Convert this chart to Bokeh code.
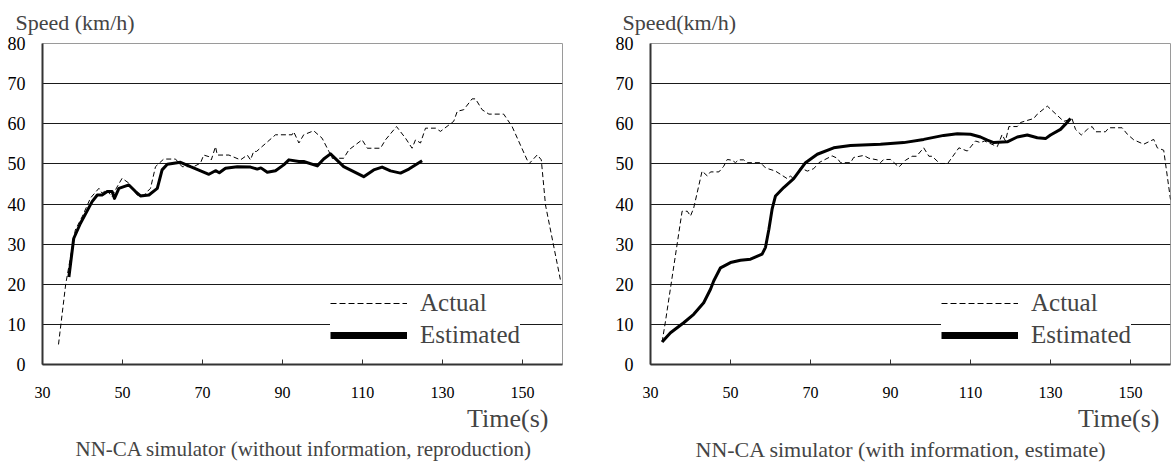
from bokeh.plotting import figure
from bokeh.models import Range1d, FixedTicker, Legend, LegendItem, Title
from bokeh.layouts import row
from bokeh.embed import file_html
from bokeh.resources import INLINE

FONT = "Liberation Serif"

# ---- data: left panel (without information, reproduction) ----
left_actual_t = [34, 35.8, 38.2, 40, 42, 44.1, 44.9, 46, 47.4, 48.5, 49.9, 51.6, 53.7, 55.3, 57, 58.25,
                 60.3, 63.25, 64.9, 67.8, 69.5, 70.3, 71.6, 72.2, 73.25, 73.7, 76.6, 79.5, 81.2, 82, 82.8,
                 83.5, 88.25, 92.4, 92.8, 94.1, 95.3, 97.8, 99.9, 101.6, 102.4, 105.3, 106.6, 108.25, 109.9,
                 111.2, 114.5, 115.75, 118.5, 120.75, 122.4, 123.25, 124.5, 125.75, 128.25, 129.5, 132.8,
                 133.7, 135.3, 137.4, 138.25, 139.9, 141.6, 145.3, 147.4, 151.6, 153.7, 154.7, 155.75, 159.5, 160]
left_actual_v = [5, 20, 33.5, 37, 41.5, 43.9, 42.7, 43.5, 41.8, 44, 46.4, 45.2, 42.2, 42.2, 43.9, 49.3,
                 51.2, 51.2, 49.3, 49.3, 50.2, 52.2, 51.8, 51, 54.3, 52.2, 52.2, 51, 52.2, 51, 53.1,
                 53.1, 57.25, 57.25, 58, 55.2, 57.25, 58.25, 56.4, 53.1, 51.4, 51.4, 53.5, 54.75, 56,
                 53.9, 53.9, 56, 59.3, 56.4, 53.9, 56, 55.2, 58.9, 58.9, 58.1, 60.6,
                 63.1, 63.5, 66.2, 66.2, 63.5, 62.4, 62.4, 59.3, 50, 52.25, 51, 39.75, 21, 21]
left_est_t = [36.6, 37.8, 39.5, 42.4, 43.7, 44.9, 46.2, 47.4, 48, 49.1, 51.6, 53.25, 54.5, 56.6, 58.7,
              59.9, 61.2, 64.5, 67, 71.6, 73.25, 74.2, 75.75, 78.7, 82, 83.7, 84.6, 86.2, 88.25, 90.3,
              91.6, 94.1, 95.3, 98.7, 100.3, 102, 105.3, 110.3, 112.8, 114.9, 117, 119.5, 121.6, 124.9]
left_est_v = [21.8, 31.4, 35.2, 40.6, 42.25, 42.25, 43.1, 43.1, 41.4, 43.9, 44.75, 43.1, 42, 42.25, 43.9,
              48.5, 49.9, 50.4, 49.3, 47.4, 48.3, 47.8, 48.9, 49.3, 49.2, 48.7, 49, 47.9, 48.3, 49.75,
              51, 50.6, 50.6, 49.5, 51.2, 52.5, 49.3, 46.8, 48.5, 49.2, 48.25, 47.7, 48.7, 50.8]

# ---- data: right panel (with information, estimate) ----
right_actual_t = [32.9, 33.75, 37.9, 39.2, 40, 40.8, 42.9, 44.2, 45, 47.1, 48.3, 49.2, 50.4, 51.25, 52,
                  53.3, 54.2, 57.5, 58.75, 61.25, 62.5, 64.2, 65, 65.8, 66.5, 67.5, 69.2, 70.8, 72.1,
                  75.4, 76.7, 77.5, 80, 80.8, 83.3, 84.6, 86.7, 87.5, 88.3, 90, 92.1, 93.75, 95.4, 96.5,
                  98.3, 99.6, 100.4, 102.3, 104.3, 107.1, 109.2, 111.25, 112.5, 113.5, 116.7, 117.9,
                  118.75, 119.6, 121.7, 122.5, 123.75, 125.8, 126.7, 129.2, 133.3, 135.4, 136.25, 137.7,
                  139.2, 140.4, 141.25, 143.75, 144.6, 147.9, 149.2, 150.8, 153.3, 155.8, 156.7, 158.3, 160]
right_actual_v = [5.6, 10.8, 38.2, 38.2, 37, 39, 48.2, 47, 48, 48, 49.4, 51.1, 50.9, 50.3, 51,
                  51, 50.3, 50.3, 49, 48.2, 47.4, 46.3, 47, 46.2, 47.5, 49, 48.2, 48.8, 50.3,
                  52, 51.4, 50.3, 50.3, 51.6, 52.1, 51.4, 51, 50.3, 51.1, 51.1, 49.2, 50.9, 51.9, 51.9,
                  54, 51.9, 51.9, 50.1, 50.1, 54, 53.2, 55.7, 55.3, 55.7, 54.3, 57.3,
                  55.7, 59.3, 59.3, 60.3, 60.7, 61.3, 62.4, 64.4, 60.6, 61.2, 58.6, 57.2,
                  58.6, 59.3, 58, 58, 59, 59, 57.4, 56, 54.9, 56.1, 54, 53.4, 41.1]
right_est_t = [32.9, 35, 38.3, 40.8, 43.3, 45, 45.8, 47.5, 50, 52.5, 55, 57.9, 58.75, 59.6, 60.4, 61.25,
               63.3, 65.8, 68.75, 71.7, 75.8, 80, 87.5, 93.3, 98.3, 103.3, 106.7, 110, 112.5, 114.2,
               115.8, 119.2, 121.7, 124.2, 126.7, 128.75, 130, 132.5, 133.75, 135]
right_est_v = [5.6, 7.9, 10.4, 12.5, 15.4, 18.75, 20.8, 24.1, 25.4, 26, 26.25, 27.5, 29.2, 33.7, 38.7, 42,
               44.1, 46.3, 50.3, 52.4, 54, 54.6, 54.9, 55.3, 56.1, 57.1, 57.5, 57.4, 56.7, 55.9,
               55.3, 55.5, 56.7, 57.2, 56.5, 56.3, 57.2, 58.6, 59.9, 61.3]

x_ticks = [30, 50, 70, 90, 110, 130, 150]
y_ticks = [0, 10, 20, 30, 40, 50, 60, 70, 80]
series_labels = ["Actual", "Estimated"]


def make_panel(width, bl, br, at, av, et, ev, ytitle, ytitle_off, time_off,
               caption, cap_off, cap_size, leg_loc):
    p = figure(width=width, height=465, x_range=Range1d(30, 160), y_range=Range1d(0, 80),
               output_backend="svg", toolbar_location=None,
               min_border_left=bl, min_border_right=br, min_border_top=43, min_border_bottom=101)
    p.extra_y_ranges = {"legend_only": Range1d(1000, 1001)}
    p.background_fill_color = "white"
    p.border_fill_color = "white"
    p.outline_line_color = "#9a9a9a"
    p.outline_line_width = 1

    p.xgrid.visible = False
    p.ygrid.ticker = FixedTicker(ticks=y_ticks[1:])
    p.ygrid.grid_line_color = "#1a1a1a"
    p.ygrid.grid_line_width = 1

    xa = p.xaxis[0]
    ya = p.yaxis[0]
    xa.ticker = FixedTicker(ticks=x_ticks)
    ya.ticker = FixedTicker(ticks=y_ticks)
    for ax in (xa, ya):
        ax.axis_line_color = "#333333"
        ax.axis_line_width = 2
        ax.major_tick_line_color = "#333333"
        ax.minor_tick_line_color = None
        ax.major_label_text_font = FONT
        ax.major_label_text_color = "black"
    xa.major_tick_in = 5
    xa.major_tick_out = 0
    xa.major_label_text_font_size = "16px"
    xa.major_label_standoff = 22
    ya.major_tick_in = 0
    ya.major_tick_out = 0
    ya.major_label_text_font_size = "18px"
    ya.major_label_standoff = 17

    p.line(at, av, line_color="black", line_width=1, line_dash="5 3")
    p.line(et, ev, line_color="black", line_width=3, line_join="round")

    # legend samples (drawn on an off-screen range so only their legend glyphs show)
    ra = p.line(at, av, line_color="black", line_width=1, line_dash="6 3", y_range_name="legend_only")
    re = p.line(et, ev, line_color="black", line_width=7, y_range_name="legend_only")
    legend = Legend(items=[LegendItem(label=series_labels[0], renderers=[ra]),
                           LegendItem(label=series_labels[1], renderers=[re])],
                    location=leg_loc, label_text_font=FONT, label_text_font_size="25px",
                    glyph_width=77, glyph_height=30, label_standoff=13, spacing=2, padding=10,
                    border_line_color=None, background_fill_color="white", background_fill_alpha=1,
                    margin=0)
    p.add_layout(legend)

    p.add_layout(Title(text=ytitle, align="left", offset=ytitle_off, text_font=FONT,
                       text_font_size="22px", text_font_style="normal", standoff=14,
                       vertical_align="top"), "above")
    p.add_layout(Title(text="Time(s)", align="right", offset=time_off, text_font=FONT,
                       text_font_size="26px", text_font_style="normal", standoff=4,
                       vertical_align="middle"), "below")
    p.add_layout(Title(text=caption, align="left", offset=cap_off, text_font=FONT,
                       text_font_size=cap_size, text_font_style="normal", standoff=0,
                       vertical_align="middle"), "below")
    return p


p1 = make_panel(604, 42, 42, left_actual_t, left_actual_v, left_est_t, left_est_v,
                "Speed (km/h)", -27, 14,
                "NN-CA simulator (without information, reproduction)", 33, "21px", (288, 14))
p2 = make_panel(567, 46, 1, right_actual_t, right_actual_v, right_est_t, right_est_v,
                "Speed(km/h)", -28, 11,
                "NN-CA simulator (with information, estimate)", 45, "22px", (291, 14))

layout = row(p1, p2)
open("out.html", "w").write(file_html(layout, INLINE))
